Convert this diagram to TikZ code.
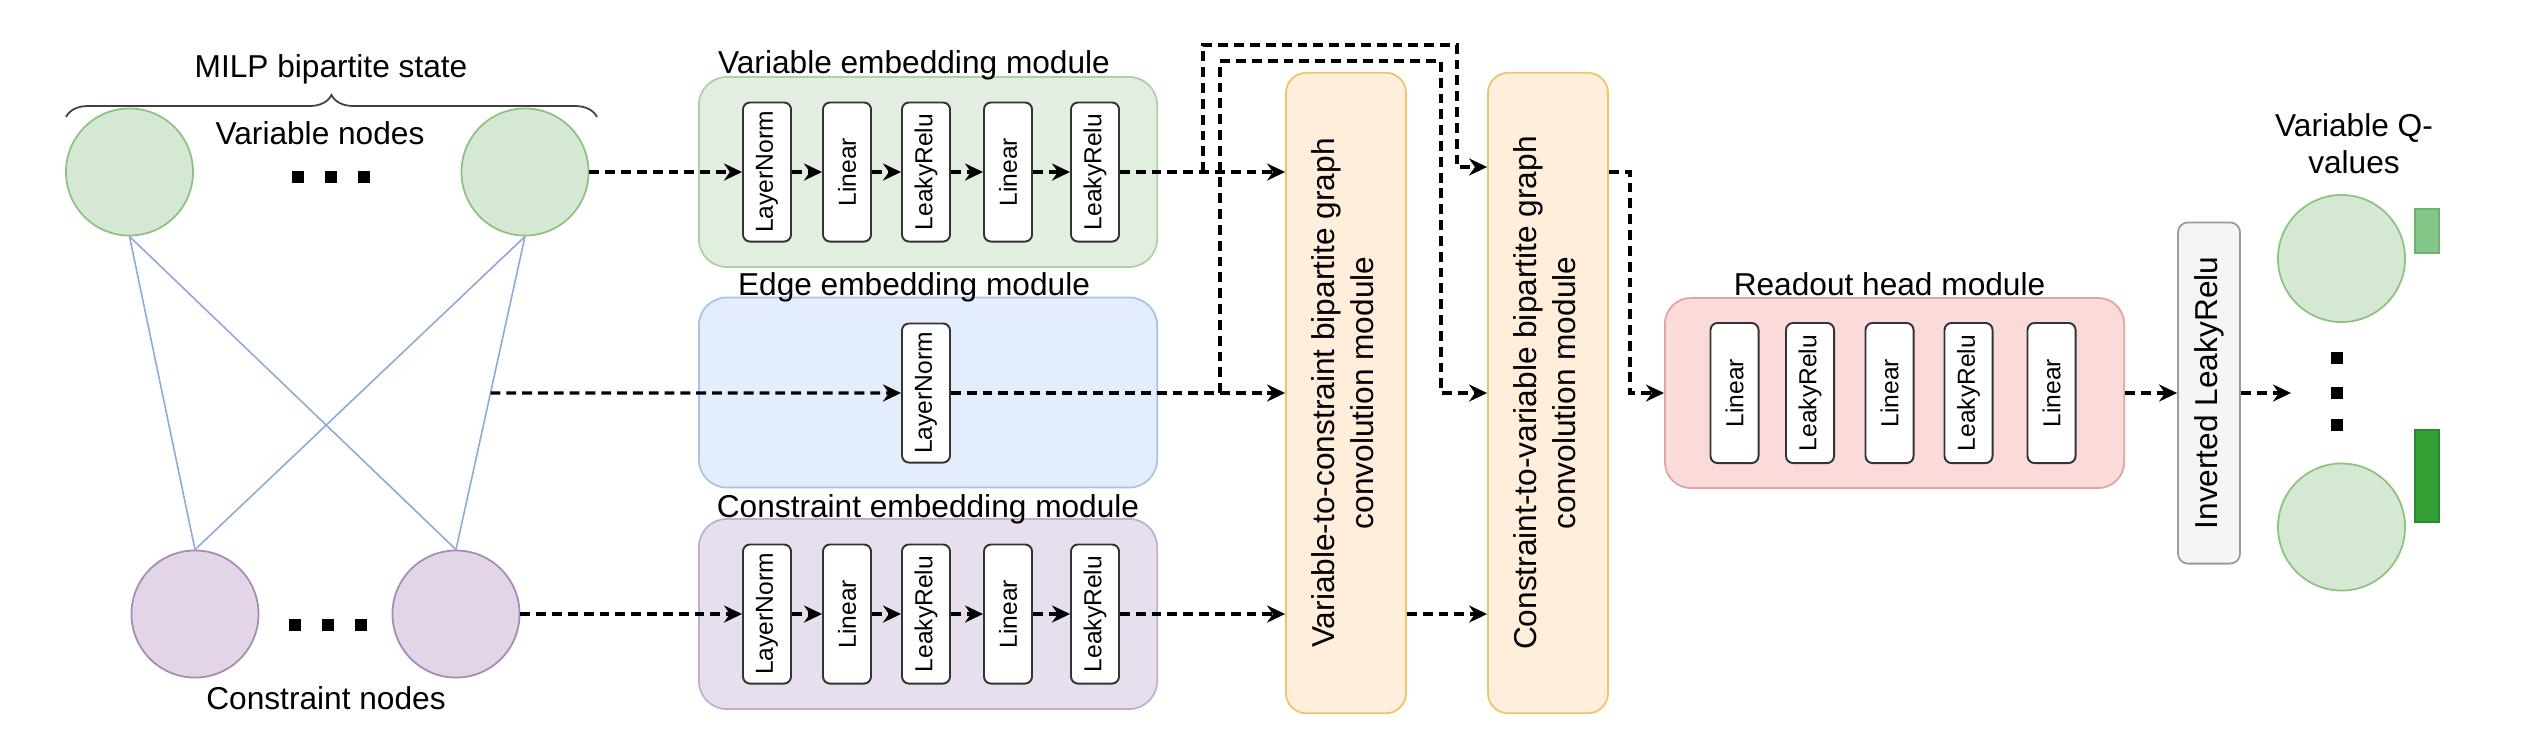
\documentclass[tikz,border=0pt]{standalone}
\usepackage{fontspec}
\setmainfont{Liberation Sans}
\usetikzlibrary{arrows.meta,calc,decorations.pathreplacing}

\definecolor{varfill}{HTML}{D5E8D4}
\definecolor{varline}{HTML}{8FC27E}
\definecolor{consfill}{HTML}{E1D5E7}
\definecolor{consline}{HTML}{A68BB5}
\definecolor{edgeblue}{HTML}{8DAAD9}
\definecolor{vembfill}{HTML}{E2EEDF}
\definecolor{vembline}{HTML}{ADD3A2}
\definecolor{eembfill}{HTML}{E3EDFC}
\definecolor{eembline}{HTML}{A8C3E6}
\definecolor{cembfill}{HTML}{E8DFEE}
\definecolor{cembline}{HTML}{C4AED0}
\definecolor{convfill}{HTML}{FFEEDC}
\definecolor{convline}{HTML}{EEC564}
\definecolor{rofill}{HTML}{FADBDA}
\definecolor{roline}{HTML}{E3A3A1}
\definecolor{invfill}{HTML}{F5F5F5}
\definecolor{invline}{HTML}{9A9A9A}
\definecolor{qlowfill}{HTML}{82C785}
\definecolor{qlowline}{HTML}{6DB36F}
\definecolor{qhighfill}{HTML}{33A033}
\definecolor{qhighline}{HTML}{2B8A2D}

\newcommand{\uptext}[1]{\rotatebox{90}{#1}}

\begin{document}
\begin{tikzpicture}[x=0.01cm, y=-0.01cm, font=\fontsize{9}{11}\selectfont,
    varnode/.style={circle, draw=varline, fill=varfill, line width=0.5pt, minimum size=1.27cm, inner sep=0pt},
    consnode/.style={varnode, draw=consline, fill=consfill},
    dotsq/.style={fill=black, minimum size=0.12cm, inner sep=0pt},
    modbox/.style={draw, rounded corners=0.28cm, line width=0.5pt, minimum width=4.58cm, minimum height=1.9cm},
    layerbox/.style={draw=black!80, fill=white, rounded corners=0.07cm, line width=0.55pt, minimum width=0.48cm, minimum height=1.39cm, inner sep=0pt, font=\fontsize{7}{8}\selectfont},
    convbox/.style={draw=convline, fill=convfill, rounded corners=0.2cm, line width=0.5pt, minimum width=1.2cm, minimum height=6.4cm, font=\fontsize{9}{11.3}\selectfont},
    flow/.style={line width=0.9pt, dash pattern=on 2.8pt off 1.7pt, -{Stealth[length=0.18cm, width=0.17cm]}},
    edgeline/.style={draw=edgeblue, line width=0.45pt}]
    \useasboundingbox (0,0) rectangle (2540,747);

    % bipartite state
    \node[varnode] (v1) at (129.5,172) {};
    \node[varnode] (v2) at (525,172) {};
    \node[consnode] (c1) at (195,614) {};
    \node[consnode] (c2) at (456,614) {};
    \foreach \i/\x in {1/298,2/331,3/364} \node[dotsq] (vd\i) at (\x,177) {};
    \foreach \i/\x in {1/295,2/328,3/361} \node[dotsq] (cd\i) at (\x,625) {};
    \node (vnodes) at (320,133) {Variable nodes};
    \node (cnodes) at (326,698) {Constraint nodes};
    \node (milp) at (331,69) {MILP bipartite state};
    \draw[decorate, decoration={brace, amplitude=0.22cm}, draw=black!75, line width=0.5pt] (66,117) -- (597,117);
    \foreach \a in {v1,v2} \foreach \b in {c1,c2} \draw[edgeline] (\a.south) -- (\b.north);
    \coordinate (emid) at ($(v2.south)!0.5!(c2.north)$);

    % embedding modules
    \node[modbox, draw=vembline, fill=vembfill] (vemb) at (928,172) {};
    \node[modbox, draw=eembline, fill=eembfill] (eemb) at (928,392.5) {};
    \node[modbox, draw=cembline, fill=cembfill] (cemb) at (928,614) {};
    \node (vembt) at (914,65) {Variable embedding module};
    \node (eembt) at (914,287) {Edge embedding module};
    \node (cembt) at (928,509) {Constraint embedding module};
    \foreach \i/\x/\t in {1/767/LayerNorm, 2/847/Linear, 3/926/LeakyRelu, 4/1008/Linear, 5/1095/LeakyRelu} {
        \node[layerbox] (va\i) at (\x,172) {\uptext{\t}};
        \node[layerbox] (ca\i) at (\x,614) {\uptext{\t}};
    }
    \node[layerbox] (ea1) at (926,393) {\uptext{LayerNorm}};
    \foreach \i [count=\j from 2] in {1,...,4} {
        \draw[flow] (va\i) -- (va\j);
        \draw[flow] (ca\i) -- (ca\j);
    }

    % convolution modules
    \node[convbox] (v2c) at (1346,393) {\uptext{\begin{tabular}{@{}c@{}}Variable-to-constraint bipartite graph\\convolution module\end{tabular}}};
    \node[convbox] (c2v) at (1548,393) {\uptext{\begin{tabular}{@{}c@{}}Constraint-to-variable bipartite graph\\convolution module\end{tabular}}};

    % readout head
    \node[modbox, draw=roline, fill=rofill, rounded corners=0.26cm, minimum width=4.59cm] (ro) at (1894.5,393) {};
    \node (rot) at (1889.5,284) {Readout head module};
    \foreach \i/\x/\t in {1/1734.5/Linear, 2/1810/LeakyRelu, 3/1889.5/Linear, 4/1968.5/LeakyRelu, 5/2051.5/Linear}
        \node[layerbox, minimum height=1.4cm] (ra\i) at (\x,393) {\uptext{\t}};
    \node[draw=invline, fill=invfill, rounded corners=0.1cm, line width=0.5pt, minimum width=0.62cm, minimum height=3.41cm, inner sep=0pt] (inv) at (2209,393) {\uptext{Inverted LeakyRelu}};

    % Q-values
    \node[varnode] (q1) at (2341.5,258.5) {};
    \node[varnode] (q2) at (2341.5,527) {};
    \foreach \i/\y in {1/358,2/393,3/425} \node[dotsq] (qd\i) at (2337,\y) {};
    \node[draw=qlowline, fill=qlowfill, minimum width=0.24cm, minimum height=0.44cm, inner sep=0pt] (qbar1) at (2427,231) {};
    \node[draw=qhighline, fill=qhighfill, minimum width=0.24cm, minimum height=0.92cm, inner sep=0pt] (qbar2) at (2427,476) {};
    \node[align=center, font=\fontsize{9}{10.5}\selectfont] (qlab) at (2354,143.5) {Variable Q-\\values};

    % connectors
    \coordinate (vtap) at (1203,172);
    \coordinate (etap) at (1220,393);
    \coordinate (vtop) at (1457,45);
    \coordinate (etop) at (1441,61);
    \coordinate (vin) at (1480,167);
    \coordinate (rodrop) at (1630,393);
    \coordinate (qin) at (2291,393);
    \draw[flow] (v2) -- (va1);
    \draw[flow] (emid) -- (ea1);
    \draw[flow] (c2) -- (ca1);
    \draw[flow] (va5) -- (va5 -| v2c.west);
    \draw[flow] (ea1) -- (ea1 -| v2c.west);
    \draw[flow] (ca5) -- (ca5 -| v2c.west);
    \draw[flow] (vtap) |- (vtop) |- (c2v.west |- vin);
    \draw[flow] (etap) |- (etop) |- (c2v.west);
    \draw[flow] (ca5 -| v2c.east) -- (ca5 -| c2v.west);
    \draw[flow] (c2v.east |- vtap) -| (rodrop) -- (ro);
    \draw[flow] (ro) -- (inv);
    \draw[flow] (inv) -- (qin);
\end{tikzpicture}
\end{document}
